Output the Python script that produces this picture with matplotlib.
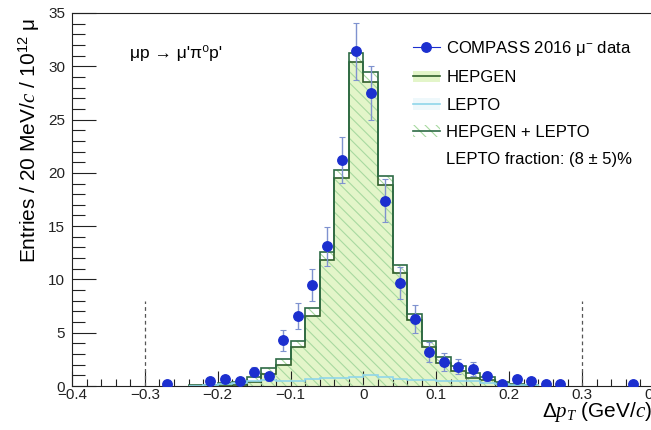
import numpy as np
import matplotlib
matplotlib.use("Agg")
import matplotlib.pyplot as plt
from matplotlib.lines import Line2D
from matplotlib.patches import Patch, Rectangle

plt.rcParams['font.family'] = ['Liberation Sans', 'DejaVu Sans']
plt.rcParams['mathtext.fontset'] = 'custom'
plt.rcParams['mathtext.rm'] = 'Liberation Sans'
plt.rcParams['mathtext.it'] = 'Liberation Serif:italic'
plt.rcParams['mathtext.bf'] = 'Liberation Sans:bold'
plt.rcParams['hatch.linewidth'] = 0.8

# ---- data ----
bin_edges = [-0.24, -0.22, -0.20, -0.18, -0.16, -0.14, -0.12, -0.10, -0.08, -0.06,
             -0.04, -0.02, 0.00, 0.02, 0.04, 0.06, 0.08, 0.10, 0.12, 0.14,
             0.16, 0.18, 0.20, 0.22, 0.24]
hepgen = [0.03, 0.05, 0.10, 0.10, 0.35, 1.10, 2.00, 3.70, 6.60, 11.85,
          19.55, 30.40, 28.50, 18.85, 10.65, 6.20, 3.65, 2.20, 1.45, 0.75,
          0.55, 0.20, 0.10, 0.05]
lepto = [0.02, 0.05, 0.15, 0.30, 0.45, 0.55, 0.50, 0.50, 0.70, 0.75,
         0.75, 0.80, 1.00, 0.85, 0.70, 0.60, 0.55, 0.50, 0.45, 0.45,
         0.30, 0.20, 0.10, 0.05]

data_x = [-0.27, -0.21, -0.19, -0.17, -0.15, -0.13, -0.11, -0.09, -0.07, -0.05,
          -0.03, -0.01, 0.01, 0.03, 0.05, 0.07, 0.09, 0.11, 0.13, 0.15,
          0.17, 0.19, 0.21, 0.23, 0.25, 0.27, 0.37]
data_y = [0.20, 0.45, 0.65, 0.45, 1.35, 0.90, 4.30, 6.55, 9.50, 13.10,
          21.20, 31.40, 27.50, 17.40, 9.70, 6.30, 3.20, 2.25, 1.80, 1.60,
          0.90, 0.20, 0.65, 0.44, 0.20, 0.20, 0.20]
data_err = [0.20, 0.25, 0.30, 0.25, 0.45, 0.40, 1.00, 1.20, 1.50, 1.80,
            2.15, 2.65, 2.50, 2.00, 1.50, 1.30, 0.95, 0.80, 0.70, 0.65,
            0.45, 0.20, 0.30, 0.25, 0.20, 0.20, 0.20]

cut_x = [-0.3, 0.3]
cut_height = 8.0

# ---- colours ----
c_fill = '#e3f5c9'
c_hatch = '#a8d9a0'
c_hep = '#2f5f2a'
c_sum = '#2e6b45'
c_lep = '#8fd6ea'
c_data = '#1c2fcf'
c_err = '#7f92cf'

fig = plt.figure(figsize=(6.51, 4.30), dpi=100)
ax = fig.add_axes([72/651, 44/430, 583/651, 373/430])

edges = np.array(bin_edges)
hep = np.array(hepgen)
lep = np.array(lepto)
tot = hep + lep

ax.stairs(hep, edges, fill=True, facecolor=c_fill, edgecolor='none', zorder=1)
ax.stairs(tot, edges, fill=True, facecolor='none', edgecolor=c_hatch, hatch='\\\\\\',
          linewidth=0, zorder=2)
ax.stairs(hep, edges, color=c_hep, linewidth=1.2, zorder=3)
ax.stairs(tot, edges, color=c_sum, linewidth=1.2, zorder=3)
ax.stairs(lep, edges, color=c_lep, linewidth=1.2, zorder=4)

for cx in cut_x:
    ax.plot([cx, cx], [0, cut_height], color='#555555', linestyle=(0, (3, 2.5)),
            linewidth=0.9, zorder=2)

ax.errorbar(data_x, data_y, yerr=data_err, fmt='o', color=c_data, markersize=6.8,
            ecolor=c_err, elinewidth=1.0, capsize=2.5, capthick=0.8, zorder=5)

ax.set_xlim(-0.4, 0.4)
ax.set_ylim(0, 35)
ax.set_xticks(np.arange(-0.4, 0.41, 0.1))
ax.set_xticklabels(['\u22120.4', '\u22120.3', '\u22120.2', '\u22120.1', '0', '0.1', '0.2', '0.3', '0.4'])
ax.set_xticks(np.arange(-0.4, 0.401, 0.02), minor=True)
ax.set_yticks(np.arange(0, 36, 5))
ax.set_yticks(np.arange(0, 36, 1), minor=True)
ax.tick_params(axis='both', which='both', direction='in', top=False, right=False,
               labelsize=11, colors='#222222')
ax.tick_params(axis='y', which='major', length=17, width=0.8, pad=5)
ax.tick_params(axis='y', which='minor', length=9, width=0.8)
ax.tick_params(axis='x', which='major', length=11, width=0.8, pad=1.5)
ax.tick_params(axis='x', which='minor', length=5, width=0.8)
for s in ax.spines.values():
    s.set_linewidth(0.8)
    s.set_color('#222222')

fig.text(0.045, 1 - 18/430, r'Entries / 20 MeV/$c$ / 10$^{12}$ μ', rotation=90,
         ha='center', va='top', fontsize=15)
fig.text(542/651, (430-417)/430, r'$\Delta p_{T}$ (GeV/$c$)', ha='left',
         va='baseline', fontsize=15)

ax.text(0.0995, 0.893, "μp → μ'π⁰p'", transform=ax.transAxes, fontsize=12.5,
        ha='left', va='center')

h_data = Line2D([], [], color=c_data, marker='o', markersize=6.8, linewidth=0.8)
h_hep = (Patch(facecolor=c_fill, edgecolor='none'), Line2D([], [], color=c_hep, linewidth=1.2))
h_lep = (Patch(facecolor='#eef8fb', edgecolor='none'), Line2D([], [], color=c_lep, linewidth=1.2))
h_sum = (Patch(facecolor='none', edgecolor=c_hatch, hatch='\\\\\\', linewidth=0),
         Line2D([], [], color=c_sum, linewidth=1.2))
h_none = Rectangle((0, 0), 1, 1, fill=False, edgecolor='none', visible=False)
leg = fig.legend([h_data, h_hep, h_lep, h_sum, h_none],
                 ['COMPASS 2016 μ$^{-}$ data', 'HEPGEN', 'LEPTO', 'HEPGEN + LEPTO',
                  'LEPTO fraction: (8 ± 5)%'],
                 loc='upper left', bbox_to_anchor=(413/651, 1 - 39/430),
                 frameon=False, fontsize=12, handlelength=1.6, handletextpad=0.4,
                 labelspacing=0.74, borderaxespad=0, borderpad=0)

fig.savefig('out.png', dpi=100)
